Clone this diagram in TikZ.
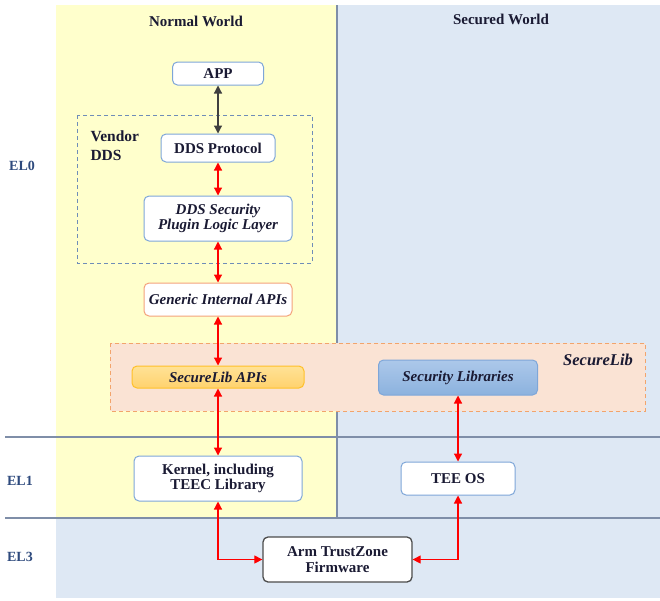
\documentclass[tikz,border=0pt]{standalone}
\usepackage{fontspec}
\setmainfont{Liberation Serif}
\usetikzlibrary{arrows.meta}
\definecolor{ylbg}{HTML}{FFFFCC}
\definecolor{blbg}{HTML}{DEE8F4}
\definecolor{peach}{HTML}{FAE3D4}
\definecolor{peachline}{HTML}{F2A46C}
\definecolor{boxblue}{HTML}{7EA6D8}
\definecolor{genor}{HTML}{F4A27A}
\definecolor{sepline}{HTML}{7F8EA8}
\definecolor{elblue}{HTML}{2E4A7D}
\definecolor{txt}{HTML}{1A1A33}
\definecolor{dashblue}{HTML}{6F8DB8}
\tikzset{
  x=1pt, y=-1pt,
  lbl/.style={font=\fontsize{15}{15.5}\selectfont\bfseries, text=txt, align=center},
  ital/.style={font=\fontsize{15}{15.5}\selectfont\bfseries\itshape, text=txt, align=center},
  box/.style={draw=boxblue, line width=1pt, fill=white, rounded corners=5pt, inner sep=0pt, lbl},
  ellbl/.style={font=\fontsize{14}{15}\selectfont\bfseries, text=elblue},
  redarr/.style={draw=red, line width=1.2pt, {Triangle[length=8pt,width=8pt]}-{Triangle[length=8pt,width=8pt]}},
  blkarr/.style={draw=black!75, line width=1.2pt, {Triangle[length=8pt,width=8pt]}-{Triangle[length=8pt,width=8pt]}},
}
\begin{document}
\begin{tikzpicture}
\useasboundingbox (0,0) rectangle (660,600);
% backgrounds
\fill[ylbg] (56,5) rectangle (337,518);
\fill[blbg] (337,5) rectangle (660,518);
\fill[blbg] (56,518) rectangle (660,598);
\draw[sepline, line width=1.2pt] (337,5) -- (337,518);
\draw[sepline, line width=1.2pt] (5,437) -- (660,437);
\draw[sepline, line width=1.2pt] (5,518) -- (660,518);
% titles
\node[lbl] (nw) at (196,21) {Normal World};
\node[lbl] (sw) at (501,19) {Secured World};
\node[ellbl] (el0) at (22,166) {EL0};
\node[ellbl] (el1) at (20,481) {EL1};
\node[ellbl] (el3) at (20,557) {EL3};
% vendor DDS group
\draw[dashblue, line width=0.8pt, dash pattern=on 4pt off 3pt] (77,115) rectangle (312,263);
\node[lbl, font=\fontsize{15.5}{19}\selectfont\bfseries, anchor=north west, align=left] (vendor) at (87,127) {Vendor\\DDS};
% securelib group
\fill[peach] (110,343) rectangle (645,411);
\draw[peachline, line width=0.9pt, dash pattern=on 4pt off 3pt] (110,343) rectangle (645,411);
\node[ital, font=\fontsize{16.5}{17}\selectfont\bfseries\itshape] (sllabel) at (598,360) {SecureLib};
% nodes
\node[box, minimum width=91pt, minimum height=23pt] (app) at (218,73.5) {APP};
\node[box, minimum width=114pt, minimum height=28pt] (ddsp) at (218,148) {DDS Protocol};
\node[box, ital, minimum width=148pt, minimum height=45pt] (plugin) at (218,218.5) {DDS Security\\Plugin Logic Layer};
\node[box, ital, draw=genor, minimum width=148pt, minimum height=33pt] (generic) at (218,299.5) {Generic Internal APIs};
\node[box, ital, draw={rgb,255:red,255;green,192;blue,40}, top color={rgb,255:red,255;green,226;blue,150}, bottom color={rgb,255:red,255;green,210;blue,110}, minimum width=172pt, minimum height=22pt] (slapi) at (218,377) {SecureLib APIs};
\node[box, ital, draw=boxblue, top color={rgb,255:red,172;green,200;blue,234}, bottom color={rgb,255:red,140;green,178;blue,222}, minimum width=159pt, minimum height=35pt] (seclib) at (458,377.5) {Security Libraries};
\node[box, minimum width=168pt, minimum height=45pt] (kernel) at (218,478.5) {Kernel, including\\TEEC Library};
\node[box, minimum width=114pt, minimum height=33pt] (teeos) at (458,478.5) {TEE OS};
\node[box, draw=black!70, line width=1.3pt, minimum width=149pt, minimum height=45pt] (arm) at (337.5,559.5) {Arm TrustZone\\Firmware};
% connectors
\draw[blkarr] (app) -- (ddsp);
\draw[redarr] (ddsp) -- (plugin);
\draw[redarr] (plugin) -- (generic);
\draw[redarr] (generic) -- (slapi);
\draw[redarr] (slapi) -- (kernel);
\draw[redarr] (seclib) -- (teeos);
\draw[redarr] (kernel.south) |- (arm.west);
\draw[redarr] (teeos.south) |- (arm.east);
\end{tikzpicture}
\end{document}
